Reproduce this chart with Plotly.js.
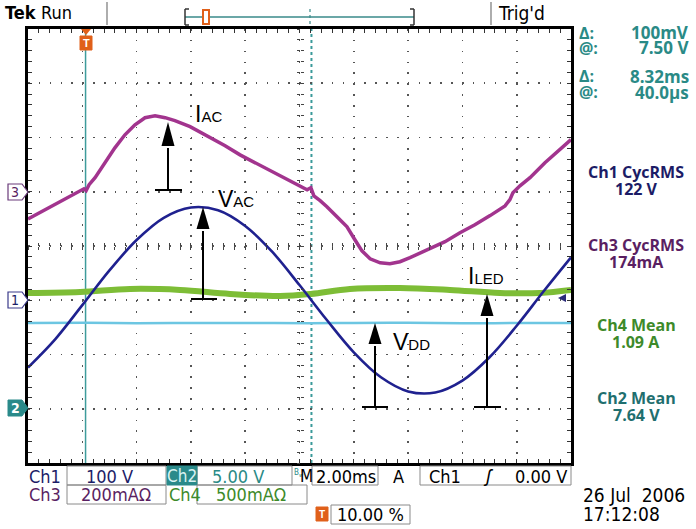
<!DOCTYPE html>
<html><head><meta charset="utf-8">
<script src="https://cdn.plot.ly/plotly-3.0.1.min.js"></script>
<style>html,body{margin:0;padding:0;background:#fff}#c{width:696px;height:529px}</style>
</head><body><div id="c"></div>
<script>
// ---------- data (read from the screen) ----------
// time in ms from left edge of screen (2.00 ms/div, 10 div)
const vacTime  = [0,1,2,3,4,5,6,7,8,9,10,11,12,13,14,15,16,17,18,19,20];
const vacVolts = [-124,-72,-9,55,111,152,171,166,137,89,28,-36,-96,-142,-168,-170,-148,-105,-47,17,79];

const iacTime = [0,0.44,0.99,1.55,2.06,2.14,2.25,2.47,2.84,3.2,3.57,3.94,4.31,4.68,5.05,5.41,5.97,6.59,7.26,7.81,8.43,9.02,9.65,10.28,10.42,10.53,10.76,11.01,11.38,11.75,12.04,12.3,12.6,12.97,13.33,13.7,14.07,14.7,15.36,15.91,16.46,17.02,17.57,17.75,17.86,18.12,18.49,19.04,19.59,20];
const iacMilliAmps = [-100,-77,-48,-18,11,4,26,52,107,162,210,247,273,280,273,262,240,206,170,136,103,74,41,7,15,-15,-33,-55,-92,-129,-177,-218,-247,-262,-265,-258,-243,-214,-184,-151,-122,-88,-52,-29,-4,22,52,107,155,192];

const iledTime = [0,1.92,3.76,5.6,7.44,9.28,10.42,11.86,13.7,15.54,17.38,18.86,20];
const iledMilliAmps = [1067,1076,1104,1095,1058,1039,1058,1104,1113,1095,1067,1067,1095];

const vddTime  = [0,2.1,4,6,8,10.4,12,14,16,18,20];
const vddVolts = [7.90,7.92,7.88,7.90,7.91,7.89,7.90,7.92,7.88,7.90,7.90];

// channel settings: units per division and ground position (div)
const ch1 = {scale:100, pos:-1};   // V_AC
const ch3 = {scale:200, pos:1};    // I_AC
const ch4 = {scale:500, pos:-3};   // I_LED
const ch2 = {scale:5,   pos:-3};   // V_DD
const cursorTimes = [2.12, 10.44];

const cursorLabels = ['Δ:','@:','Δ:','@:'];
const cursorValues = ['100mV','7.50 V','8.32ms','40.0µs'];
const measNames  = ['Ch1 CycRMS','Ch3 CycRMS','Ch4 Mean','Ch2 Mean'];
const measValues = ['122 V','174mA','1.09 A','7.64 V'];

// ---------- geometry helpers ----------
const L=28,R=571,T=29,B=463, PW=R-L, PH=B-T;
const px2t = px => (px-L)/PW*20;
const py2d = py => 4-(py-T)/PH*8;
const pX = px => (px-L)/PW;
const pY = py => (B-py)/PH;
const toDiv = (vals,ch) => vals.map(v => ch.pos + v/ch.scale);

const C_VAC='#1f218f', C_IAC='#a2348e', C_ILED='#7dbd36', C_VDD='#6cc6e2';
const TEAL='#2a8a86', NAVY='#1c1c66', PURP='#5a1f62', GREEN='#3d8a2a', TEAL2='#1f6f6f';
const FN="'Liberation Sans Narrow','DejaVu Sans Condensed',sans-serif";
const FR="'Open Sans','Noto Sans',sans-serif";
const FA="'Liberation Sans',Arial,sans-serif";

const traces = [
  {x:vddTime, y:toDiv(vddVolts,ch2), mode:'lines', line:{color:C_VDD,width:2.5,shape:'spline'}, hoverinfo:'skip'},
  {x:iledTime, y:toDiv(iledMilliAmps,ch4), mode:'lines', line:{color:C_ILED,width:6,shape:'spline'}, hoverinfo:'skip'},
  {x:vacTime, y:toDiv(vacVolts,ch1), mode:'lines', line:{color:C_VAC,width:2.6,shape:'spline'}, hoverinfo:'skip'},
  {x:iacTime, y:toDiv(iacMilliAmps,ch3), mode:'lines', line:{color:C_IAC,width:3.5}, hoverinfo:'skip'},
  {x:[],y:[],xaxis:'x2',yaxis:'y',showlegend:false},
  {x:[],y:[],xaxis:'x3',yaxis:'y',showlegend:false},
  {x:[],y:[],xaxis:'x',yaxis:'y2',showlegend:false},
  {x:[],y:[],xaxis:'x',yaxis:'y3',showlegend:false}
];

const shapes = [];
const ann = [];

// cursors
shapes.push({type:'line',xref:'x',yref:'y',x0:cursorTimes[0],x1:cursorTimes[0],y0:-4,y1:4,line:{color:'#3e9c9c',width:1.5},layer:'below'});
shapes.push({type:'line',xref:'x',yref:'y',x0:cursorTimes[1],x1:cursorTimes[1],y0:-4,y1:4,line:{color:'#3a9a9a',width:2,dash:'dot'},layer:'below'});

// annotation arrows
function arrow(x,tip,headBottom,base,b0,b1){
  shapes.push({type:'line',xref:'x',yref:'y',x0:px2t(x),x1:px2t(x),y0:py2d(base),y1:py2d(headBottom+2),line:{color:'#000',width:2}});
  shapes.push({type:'line',xref:'x',yref:'y',x0:px2t(b0),x1:px2t(b1),y0:py2d(base),y1:py2d(base),line:{color:'#000',width:2}});
  shapes.push({type:'path',xref:'x',yref:'y',fillcolor:'#000',line:{width:0},
    path:`M${px2t(x)},${py2d(tip)} L${px2t(x+6.5)},${py2d(headBottom)} L${px2t(x-6.5)},${py2d(headBottom)} Z`});
}
arrow(168,122,146,190,155,182);
arrow(203,207,229,299,191,217);
arrow(375,323,344,407,362,388);
arrow(487,294,316,407,474,501);
function lab(main,sub,x,y){
  ann.push({xref:'x',yref:'y',x:px2t(x),y:py2d(y),showarrow:false,xanchor:'left',yanchor:'middle',
    text:`${main}<span style="font-size:15px">${sub}</span>`,font:{family:FA,size:23,color:'#000'}});
}
lab('I','AC',193,114);
lab('V','AC',216,199);
lab('V','DD',391,342);
lab('I','LED',466,276);

function txt(s,x,y,opt){
  ann.push(Object.assign({xref:'paper',yref:'paper',x:pX(x),y:pY(y),showarrow:false,xanchor:'left',yanchor:'middle',text:s,
    font:{family:FN,size:18,color:'#000'}},opt||{}));
}
function rect(x0,y0,x1,y1,line,fill){
  shapes.push({type:'rect',xref:'paper',yref:'paper',x0:pX(x0),x1:pX(x1),y0:pY(y0),y1:pY(y1),line:line||{color:'#8a8a8a',width:1},fillcolor:fill||'rgba(0,0,0,0)'});
}
function pline(x0,y0,x1,y1,color,w,dash){
  shapes.push({type:'line',xref:'paper',yref:'paper',x0:pX(x0),x1:pX(x1),y0:pY(y0),y1:pY(y1),line:{color:color,width:w,dash:dash||'solid'}});
}
function ppath(pts,fill,lineColor,lw){
  const d = pts.map((p,i)=>(i?'L':'M')+pX(p[0])+','+pY(p[1])).join(' ')+' Z';
  shapes.push({type:'path',xref:'paper',yref:'paper',path:d,fillcolor:fill,line:{color:lineColor||fill,width:lw||0}});
}

// top bar
txt('<b>Tek</b>',3,13,{font:{family:FN,size:18,color:'#000'}});
txt('Run',39,13,{font:{family:FN,size:18,color:'#000'}});
pline(107,2,107,25,'#777',1.2);
pline(491,2,491,25,'#777',1.2);
txt("Trig'd",496,13,{font:{family:FN,size:19,color:'#000'}});
pline(185,17,414,17,'#3a8a8a',1.5);
pline(185,9,185,25,'#333',1.5); pline(185,9,189,9,'#333',1.5); pline(185,25,189,25,'#333',1.5);
pline(414,9,414,25,'#333',1.5); pline(410,9,414,9,'#333',1.5); pline(410,25,414,25,'#333',1.5);
pline(310,9,310,25,'#3a8a8a',1.2,'dot');
rect(203,10,209,24,{color:'#e0601a',width:2},'#fff');
// trigger marker on graticule
ppath([[81,29],[91,29],[86,35]],'#e0601a');
rect(80,36,92,50,{color:'#e0601a',width:1},'#e0601a');
txt('<b>T</b>',86,43,{xanchor:'center',font:{family:FA,size:11,color:'#fff'}});

// channel ground markers
ppath([[8,184],[22,184],[28,192],[22,200],[8,200]],'#fff','#6a3a7a',1.2);
txt('3',15,192,{xanchor:'center',font:{family:FN,size:14,color:PURP}});
ppath([[8,292],[22,292],[28,300],[22,308],[8,308]],'#fff','#3a3a8a',1.2);
txt('1',15,300,{xanchor:'center',font:{family:FN,size:14,color:NAVY}});
ppath([[8,400],[22,400],[28,408],[22,416],[8,416]],'#2a8a8a','#2a8a8a',1);
txt('<b>2</b>',15,408,{xanchor:'center',font:{family:FN,size:14,color:'#fff'}});
// trigger level arrow
ppath([[558,298],[566,294],[566,302]],'#2a2a7a');

// right readouts
const cy=[33,48,76,92];
cursorLabels.forEach((s,i)=>txt(s,577,cy[i],{font:{family:FR,size:16,color:TEAL,weight:700}}));
cursorValues.forEach((s,i)=>txt(s,691,cy[i],{xanchor:'right',font:{family:FR,size:17,color:TEAL,weight:700}}));
const mcol=[NAVY,PURP,GREEN,TEAL2];
const my=[172,245,325,398];
measNames.forEach((s,i)=>{
  txt(s,636,my[i],{xanchor:'center',font:{family:FR,size:16,color:mcol[i],weight:700}});
  txt(measValues[i],636,my[i]+17,{xanchor:'center',font:{family:FR,size:16,color:mcol[i],weight:700}});
});

// bottom readouts
rect(67,466,166,485); rect(197,466,292,485); rect(312,466,378,485); rect(420,466,571,485);
rect(167,466,197,485,{color:'#2a8a8a',width:1},'#2a8a8a');
rect(67,485,166,504); rect(197,485,307,504); rect(331,505,410,524);
txt('Ch1',27,476,{font:{family:FN,size:18,color:NAVY}});
txt('100 V',109,476,{xanchor:'center',font:{family:FN,size:18,color:NAVY}});
txt('Ch2',182,476,{xanchor:'center',font:{family:FN,size:17,color:'#d8f2f2'}});
txt('5.00 V',238,476,{xanchor:'center',font:{family:FN,size:18,color:TEAL}});
txt('B<sub>w</sub>',292,473,{font:{family:FN,size:8,color:TEAL}});
txt('M',298,476,{font:{family:FN,size:17,color:'#000'}});
txt('2.00ms',346,476,{xanchor:'center',font:{family:FN,size:18,color:'#000'}});
txt('A',391,476,{font:{family:FN,size:18,color:'#000'}});
txt('Ch1',427,476,{font:{family:FN,size:18,color:'#000'}});
txt('<i>ʃ</i>',481,476,{font:{family:FA,size:18,color:'#000'}});
txt('0.00 V',569,476,{xanchor:'right',font:{family:FN,size:18,color:'#000'}});
txt('Ch3',27,495,{font:{family:FN,size:18,color:PURP}});
txt('200mAΩ',116,495,{xanchor:'center',font:{family:FN,size:18,color:PURP}});
txt('Ch4',167,495,{font:{family:FN,size:18,color:GREEN}});
txt('500mAΩ',251,495,{xanchor:'center',font:{family:FN,size:18,color:GREEN}});
rect(316,507,328,521,{color:'#e0601a',width:1},'#e0601a');
txt('<b>T</b>',322,514,{xanchor:'center',font:{family:FA,size:10,color:'#fff'}});
txt('10.00 %',335,514,{font:{family:FN,size:18,color:'#000'}});
txt('26 Jul  2006',581,495,{font:{family:FN,size:19,color:'#000'}});
txt('17:12:08',581,514,{font:{family:FN,size:19,color:'#000'}});

const grid = {showgrid:true, gridcolor:'#555', gridwidth:1.6, griddash:'1.6px,9.25px', zeroline:false,
  showticklabels:false, showline:true, linecolor:'#000', linewidth:3, mirror:'ticks', ticks:'inside', ticklen:4, tickcolor:'#333', tickwidth:1, fixedrange:true};
const center = {showgrid:false,zeroline:false,showline:false,showticklabels:false,ticklen:3,tickcolor:'#444',tickwidth:1,fixedrange:true,anchor:'free',position:0.5};

const layout = {
  width:696, height:529, margin:{l:L,r:696-R,t:T,b:529-B},
  paper_bgcolor:'#fff', plot_bgcolor:'#fff', showlegend:false,
  xaxis:Object.assign({},grid,{range:[0,20],dtick:2,tick0:0,minor:{dtick:0.4, ticks:'inside', ticklen:4, tickcolor:'#333', showgrid:false}}),
  yaxis:Object.assign({},grid,{range:[-4,4],dtick:1,tick0:0,minor:{dtick:0.2, ticks:'inside', ticklen:4, tickcolor:'#333', showgrid:false}}),
  xaxis2:Object.assign({},center,{overlaying:'x',range:[0,20],dtick:0.4,ticks:'outside'}),
  xaxis3:Object.assign({},center,{overlaying:'x',range:[0,20],dtick:0.4,ticks:'inside'}),
  yaxis2:Object.assign({},center,{overlaying:'y',range:[-4,4],dtick:0.2,ticks:'outside'}),
  yaxis3:Object.assign({},center,{overlaying:'y',range:[-4,4],dtick:0.2,ticks:'inside'}),
  shapes:shapes, annotations:ann
};

Plotly.newPlot('c', traces, layout, {staticPlot:true, displayModeBar:false});
</script></body></html>
